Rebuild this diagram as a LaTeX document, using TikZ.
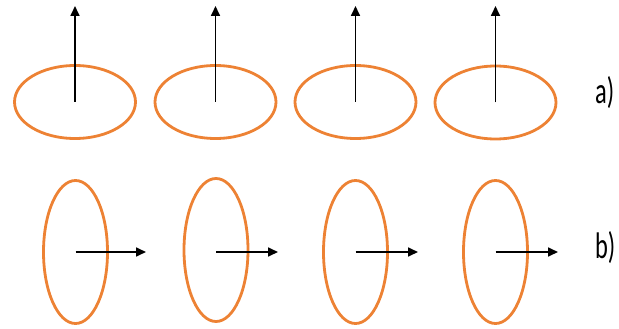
\documentclass[tikz,border=0pt]{standalone}
\usepackage{fontspec}
\setmainfont{Carlito}
\usetikzlibrary{shapes.geometric,arrows.meta}
\definecolor{ringorange}{RGB}{237,130,52}
\tikzset{
  flatring/.style={ellipse, draw=ringorange, line width=2.8pt, inner sep=0pt,
                   minimum width=121pt, minimum height=73pt},
  tallring/.style={ellipse, draw=ringorange, line width=2.8pt, inner sep=0pt,
                   minimum width=64pt, minimum height=143pt},
  vec/.style={line width=1.7pt, -{Triangle[length=10pt,width=9pt]}},
  lbl/.style={font=\fontsize{37}{37}\selectfont, xscale=0.66, anchor=base west, inner sep=0pt}
}
\begin{document}
\begin{tikzpicture}[x=1pt,y=-1pt]
\useasboundingbox (0,0) rectangle (619,329);
% row a
\node[flatring] (a1) at (75,102) {};
\node[flatring] (a2) at (215.5,102) {};
\node[flatring] (a3) at (355.5,102) {};
\node[flatring] (a4) at (495.5,102.5) {};
\coordinate (ta1) at (75,6);
\coordinate (ta2) at (215.5,6);
\coordinate (ta3) at (355.5,6);
\coordinate (ta4) at (495.5,6);
\draw[vec] (a1.center) -- (ta1);
\draw[vec] (a2.center) -- (ta2);
\draw[vec] (a3.center) -- (ta3);
\draw[vec] (a4.center) -- (ta4);
% row b
\node[tallring] (b1) at (75.5,252) {};
\node[tallring] (b2) at (216,250) {};
\node[tallring] (b3) at (355.5,252) {};
\node[tallring] (b4) at (495.5,252) {};
\coordinate (tb1) at (146,252);
\coordinate (tb2) at (278,252);
\coordinate (tb3) at (418,252);
\coordinate (tb4) at (558,252);
\draw[vec] (b1.center |- tb1) -- (tb1);
\draw[vec] (b2.center |- tb2) -- (tb2);
\draw[vec] (b3.center |- tb3) -- (tb3);
\draw[vec] (b4.center |- tb4) -- (tb4);
% labels
\node[lbl] (la) at (595,103) {a)};
\node[lbl] (lb) at (595,258) {b)};
\end{tikzpicture}
\end{document}
